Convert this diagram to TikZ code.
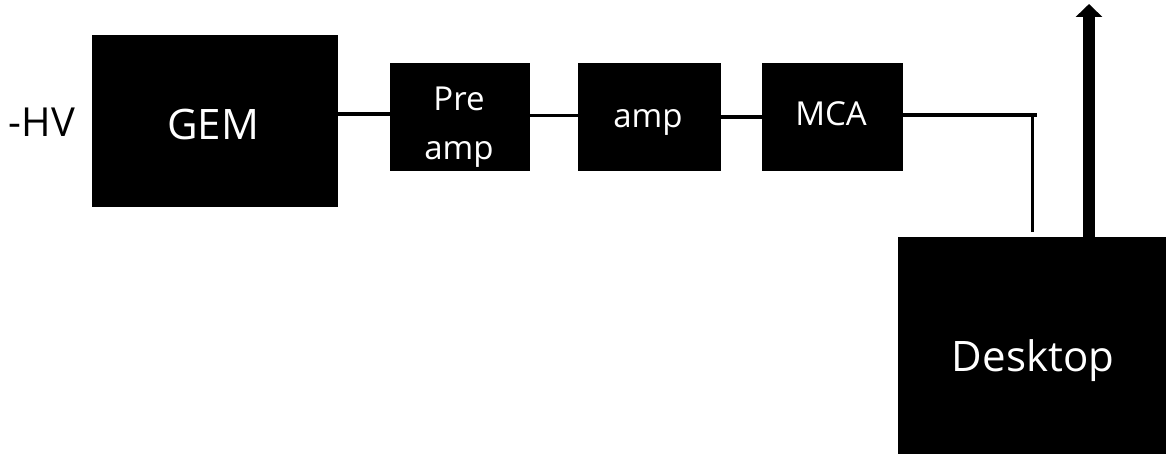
\documentclass[tikz,border=0pt]{standalone}
\usepackage{fontspec}
\setmainfont{Open Sans}
\usetikzlibrary{arrows.meta}
\begin{document}
\begin{tikzpicture}[x=1pt,y=-1pt,
  blk/.style={fill=black,draw=none,inner sep=0pt,outer sep=0pt},
  lbl/.style={text=white,inner sep=0pt,align=center},
  big/.style={font=\fontsize{42}{48}\selectfont},
  small/.style={font=\fontsize{33}{49}\selectfont},
  wire/.style={line width=3.5pt},
  uparrow/.style={line width=12pt,-{Triangle[width=26pt,length=13pt]}}]
\useasboundingbox (0,0) rectangle (1166,454);
\begin{scope}
\clip (0,0) rectangle (1166,454);
\node[blk,minimum width=246pt,minimum height=172pt] (gem) at (215,121) {};
\node[blk,minimum width=140pt,minimum height=108pt] (pre) at (460,117) {};
\node[blk,minimum width=143pt,minimum height=108pt] (amp) at (649,117) {};
\node[blk,minimum width=141pt,minimum height=108pt] (mca) at (832,117) {};
\node[blk,minimum width=270pt,minimum height=218pt] (desk) at (1033,346) {};
\node[lbl,big] (gemtxt) at (213,125) {GEM};
\node[lbl,small] (pretxt) at (459,127) {Pre\\amp};
\node[lbl,small] (amptxt) at (648,122) {amp};
\node[lbl,small] (mcatxt) at (831,114) {MCA};
\node[lbl,font=\fontsize{42}{50}\selectfont] (desktxt) at (1033,361) {Desktop};
\node[big,font=\fontsize{40}{48}\selectfont,inner sep=0pt] (hv) at (42,122) {-HV};
\draw[wire] (gem.east |- 0,114) -- (pre.west |- 0,114);
\draw[wire] (pre.east |- 0,115.5) -- (amp.west |- 0,115.5);
\draw[wire] (amp.east |- 0,117) -- (mca.west |- 0,117);
\coordinate (corner) at (1037,115);
\coordinate (drop) at (1032.5,232);
\draw[wire] (mca.east |- corner) -- (corner);
\draw[line width=3pt] (drop |- corner) -- (drop);
\coordinate (tip) at (1089,4);
\draw[uparrow] (desk.north -| tip) -- (tip);
\end{scope}
\end{tikzpicture}
\end{document}
